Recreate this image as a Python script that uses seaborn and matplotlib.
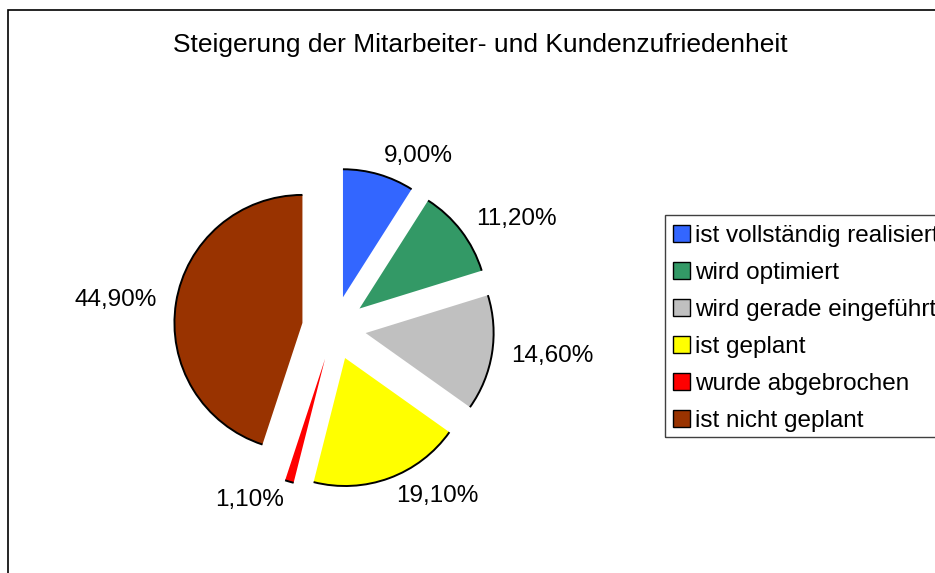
import matplotlib
matplotlib.use("Agg")
import matplotlib.pyplot as plt
from matplotlib.patches import Arc, Patch, Rectangle
import seaborn as sns

# Data
categories = [
    "ist vollständig realisiert",
    "wird optimiert",
    "wird gerade eingeführt",
    "ist geplant",
    "wurde abgebrochen",
    "ist nicht geplant",
]
values = [9.0, 11.2, 14.6, 19.1, 1.1, 44.9]
colors = ["#3366FF", "#339966", "#C0C0C0", "#FFFF00", "#FF0000", "#993300"]
title = "Steigerung der Mitarbeiter- und Kundenzufriedenheit"

pct_labels = [f"{v:.2f}".replace(".", ",") + "%" for v in values]

sns.set_style("white")
plt.rcParams["font.family"] = ["Liberation Sans", "DejaVu Sans"]
plt.rcParams["text.color"] = "black"

fig = plt.figure(figsize=(9.35, 5.73), dpi=100)
ax = fig.add_axes([0.1382, 0.0702, 0.4381, 0.7148])

wedges, texts = ax.pie(
    values,
    colors=sns.color_palette(colors),
    startangle=90,
    counterclock=False,
    explode=[0.25] * len(values),
    labels=pct_labels,
    labeldistance=1.15,
    wedgeprops=dict(linewidth=0),
    textprops=dict(fontsize=17.5, color="black"),
    frame=False,
)
ax.set_xlim(-1.6, 1.6)
ax.set_ylim(-1.6, 1.6)
ax.set_aspect("equal")
ax.axis("off")

# black outline only along the arc of each slice
for w in wedges:
    ax.add_patch(Arc(w.center, 2 * w.r, 2 * w.r, theta1=w.theta1, theta2=w.theta2,
                     color="black", linewidth=1.4))

# Title
fig.text(480 / 935, 1 - 45 / 573, title, ha="center", va="center", fontsize=19)

# Legend
handles = [Patch(facecolor=c, edgecolor="black", linewidth=1) for c in colors]
leg = fig.legend(
    handles,
    categories,
    loc="upper left",
    bbox_to_anchor=(673 / 935, 1 - 225 / 573),
    fontsize=17.5,
    frameon=False,
    handlelength=0.7,
    handleheight=0.7,
    handletextpad=0.2,
    labelspacing=0.62,
    borderpad=0,
    borderaxespad=0,
)

# legend box (cut off at the right edge)
fig.patches.append(Rectangle((665 / 935, 1 - 437 / 573), 0.5, 222 / 573,
                             transform=fig.transFigure, fill=False,
                             edgecolor="#404040", linewidth=1))

# outer chart frame (cut off at right and bottom)
fig.patches.append(Rectangle((8 / 935, -0.2), 1.5, 0.2 + 1 - 10 / 573,
                             transform=fig.transFigure, fill=False,
                             edgecolor="black", linewidth=1.2))

fig.savefig("out.png", dpi=100)
